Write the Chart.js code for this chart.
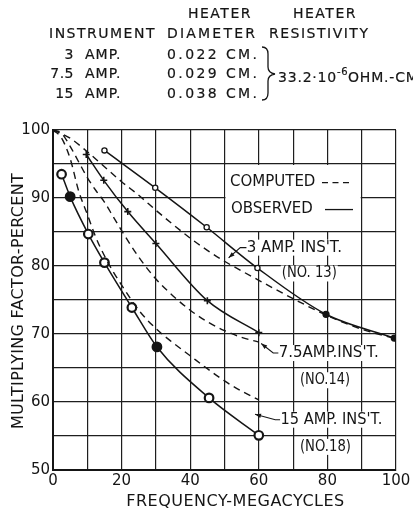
<!DOCTYPE html>
<html><head><meta charset="utf-8">
<script src="https://cdn.jsdelivr.net/npm/chart.js@4"></script>
<style>
html,body{margin:0;padding:0;background:#fff;}
#wrap{position:relative;width:413px;height:510px;overflow:hidden;background:#fff;}
#c{position:absolute;left:0;top:0;}
.h{position:absolute;font-family:"DejaVu Sans",sans-serif;font-size:14px;letter-spacing:1.5px;color:#151515;white-space:nowrap;line-height:16px;-webkit-text-stroke:0.2px #151515;}
.h sup{font-size:10px;letter-spacing:0.5px;position:relative;top:-1px;}
</style></head><body>
<div id="wrap">
<canvas id="c" width="413" height="510"></canvas>
<div id="hdr"></div>
</div>
<script>
// ---------- header table ----------
const headerGroups = ['HEATER', 'HEATER'];
const columnTitles = ['INSTRUMENT', 'DIAMETER', 'RESISTIVITY'];
const instrumentSizes = ['3', '7.5', '15'];
const instrumentUnit = 'AMP.';
const heaterDiameters = ['0.022 CM.', '0.029 CM.', '0.038 CM.'];
const resistivityValue = '33.2·10';
const resistivityExp = '-6';
const resistivityUnit = 'OHM.-CM.';

// ---------- chart data ----------
const xTicks = [0, 20, 40, 60, 80, 100];
const yTicks = [50, 60, 70, 80, 90, 100];

// observed (solid)
const obs3X  = [15, 29.8, 44.8, 59.6, 79.6, 99.5];
const obs3Y  = [97, 91.5, 85.7, 79.7, 72.9, 69.4];
const obs75X = [9.7, 14.8, 21.8, 30, 45, 60];
const obs75Y = [96.4, 92.6, 88, 83.3, 74.9, 70.2];
const obs15X = [2.5, 5, 10.3, 15, 23, 30.3, 45.5, 60];
const obs15Y = [93.5, 90.2, 84.7, 80.5, 73.9, 68.1, 60.6, 55.1];

// computed (dashed)
const comp3X  = [0, 5, 10, 15, 20, 25, 30, 35, 40, 45, 50, 60, 70, 80, 90, 100];
const comp3Y  = [100, 98.8, 96.8, 94.6, 92.4, 90.4, 88.2, 86.1, 84.1, 82.3, 80.7, 77.9, 75.2, 72.7, 70.7, 69.3];
const comp75X = [0, 2.5, 5, 7.5, 10, 12.5, 15, 17.5, 20, 25, 30, 35, 40, 45, 50, 55, 60];
const comp75Y = [100, 99.5, 97.6, 95.3, 93, 91.1, 89.4, 87.3, 85.2, 81.3, 78.1, 75.6, 73.5, 71.8, 70.5, 69.5, 68.8];
const comp15X = [0, 2.5, 5, 7.5, 10, 12.5, 15, 17.5, 20, 25, 30, 35, 40, 45, 50, 55, 60];
const comp15Y = [100, 98.8, 95.8, 91, 87.6, 84.2, 81.5, 79.2, 77.2, 73.5, 70.8, 68.7, 66.8, 64.9, 63.1, 61.6, 60.3];

const legendTexts = ['COMPUTED', 'OBSERVED'];
const curveLabels = ["3 AMP. INS'T.", "7.5AMP.INS'T.", "15 AMP. INS'T."];
const curveNumbers = ['(NO. 13)', '(NO.14)', '(NO.18)'];
const xTitle = 'FREQUENCY-MEGACYCLES';
const yTitle = 'MULTIPLYING FACTOR-PERCENT';

// ---------- header DOM ----------
const hdr = document.getElementById('hdr');
function hText(html, left, top, extra) {
  const d = document.createElement('div');
  d.className = 'h';
  d.innerHTML = html;
  d.style.left = left + 'px';
  d.style.top = top + 'px';
  if (extra) Object.assign(d.style, extra);
  hdr.appendChild(d);
  return d;
}
hText(headerGroups[0], 188, 5);
hText(headerGroups[1], 293, 5);
hText(columnTitles[0], 49, 25);
hText(columnTitles[1], 167, 25, {letterSpacing: '2.2px'});
hText(columnTitles[2], 269, 25);
const rowTops = [46, 65, 85];
instrumentSizes.forEach((s, i) => {
  hText(s, 30, rowTops[i], {width: '44px', textAlign: 'right', letterSpacing: '0.5px'});
  hText(instrumentUnit, 85, rowTops[i], {letterSpacing: '1px'});
  hText(heaterDiameters[i], 167, rowTops[i], {letterSpacing: '2.4px'});
});
hText(resistivityValue + '<sup>' + resistivityExp + '</sup>' + resistivityUnit, 278, 65, {letterSpacing: '0.8px'});
// brace
const svgNS = 'http://www.w3.org/2000/svg';
const svg = document.createElementNS(svgNS, 'svg');
svg.setAttribute('width', '20'); svg.setAttribute('height', '60');
svg.style.position = 'absolute'; svg.style.left = '260px'; svg.style.top = '45px';
const p = document.createElementNS(svgNS, 'path');
p.setAttribute('d', 'M2,2 Q8,2 8,9 L8,22 Q8,28 15,29 Q8,30 8,36 L8,48 Q8,55 2,55');
p.setAttribute('fill', 'none'); p.setAttribute('stroke', '#151515'); p.setAttribute('stroke-width', '1.3');
svg.appendChild(p); hdr.appendChild(svg);

// ---------- chart ----------
const INK = '#151515';
const FONT = '"DejaVu Sans", sans-serif';
const pts = (xs, ys) => xs.map((x, i) => ({x, y: ys[i]}));

function drawText(ctx, s, px, py, font, opts = {}) {
  ctx.save();
  ctx.font = font;
  ctx.textBaseline = 'middle';
  ctx.textAlign = opts.align || 'left';
  if ('letterSpacing' in ctx) ctx.letterSpacing = opts.ls || '0px';
  let w = ctx.measureText(s).width;
  if (opts.maxW && w > opts.maxW) w = opts.maxW;
  if (opts.bg) {
    ctx.fillStyle = '#fff';
    const lx = opts.align === 'center' ? px - w / 2 : px;
    ctx.fillRect(lx - 1, py - 8, w + 2, 16);
  }
  ctx.fillStyle = INK;
  if (opts.maxW) ctx.fillText(s, px, py, opts.maxW); else ctx.fillText(s, px, py);
  ctx.restore();
}

function leader(ctx, X, Y, path) {
  const P = path.map(([a, b]) => [X.getPixelForValue(a), Y.getPixelForValue(b)]);
  ctx.save();
  ctx.strokeStyle = INK; ctx.fillStyle = INK; ctx.lineWidth = 1.1;
  ctx.beginPath();
  ctx.moveTo(P[0][0], P[0][1]);
  for (let i = 1; i < P.length; i++) ctx.lineTo(P[i][0], P[i][1]);
  ctx.stroke();
  const [tx, ty] = P[P.length - 1], [sx, sy] = P[P.length - 2];
  const ang = Math.atan2(ty - sy, tx - sx);
  ctx.beginPath();
  ctx.moveTo(tx, ty);
  ctx.lineTo(tx - 6 * Math.cos(ang) + 2.2 * Math.sin(ang), ty - 6 * Math.sin(ang) - 2.2 * Math.cos(ang));
  ctx.lineTo(tx - 6 * Math.cos(ang) - 2.2 * Math.sin(ang), ty - 6 * Math.sin(ang) + 2.2 * Math.cos(ang));
  ctx.closePath(); ctx.fill();
  ctx.restore();
}

const annot = {
  id: 'annot',
  beforeDatasetsDraw(chart) {
    const {ctx} = chart; const X = chart.scales.x, Y = chart.scales.y;
    const l = X.getPixelForValue(50), r = X.getPixelForValue(90);
    const t = Y.getPixelForValue(95), b = Y.getPixelForValue(85);
    ctx.save(); ctx.fillStyle = '#fff'; ctx.fillRect(l + 1, t + 1, r - l - 2, b - t - 2); ctx.restore();
  },
  afterDatasetsDraw(chart) {
    const {ctx} = chart; const X = chart.scales.x, Y = chart.scales.y;
    const f15 = '15px ' + FONT;
    // legend
    const lx = X.getPixelForValue(51.6);
    const ly1 = Y.getPixelForValue(92.4), ly2 = Y.getPixelForValue(88.3);
    drawText(ctx, legendTexts[0], lx, ly1, f15, {maxW: 90});
    drawText(ctx, legendTexts[1], lx + 1, ly2, f15, {maxW: 89});
    ctx.save(); ctx.strokeStyle = INK; ctx.lineWidth = 1.3;
    ctx.setLineDash([6, 4.5]);
    ctx.beginPath(); ctx.moveTo(lx + 92, ly1 + 1); ctx.lineTo(lx + 122, ly1 + 1); ctx.stroke();
    ctx.setLineDash([]);
    ctx.beginPath(); ctx.moveTo(lx + 95, ly2); ctx.lineTo(lx + 123, ly2); ctx.stroke();
    ctx.restore();
    // curve labels
    const anchors = [[56.5, 82.7], [65.8, 67.2], [66.3, 57.4]];
    const numAnchors = [[66.7, 78.9], [72.0, 63.2], [72.0, 53.4]];
    const widths = [97, 104, 102], numW = [55, 50, 51];
    curveLabels.forEach((s, i) => {
      drawText(ctx, s, X.getPixelForValue(anchors[i][0]), Y.getPixelForValue(anchors[i][1]), f15, {maxW: widths[i], bg: true});
      drawText(ctx, curveNumbers[i], X.getPixelForValue(numAnchors[i][0]), Y.getPixelForValue(numAnchors[i][1]), f15, {maxW: numW[i], bg: true});
    });
    leader(ctx, X, Y, [[56.4, 82.7], [54.6, 82.7], [51.2, 81.2]]);
    leader(ctx, X, Y, [[65.7, 67.2], [64.2, 67.2], [60.7, 68.6]]);
    leader(ctx, X, Y, [[66.2, 57.4], [64.8, 57.4], [58.9, 58.2]]);
  },
  afterDraw(chart) {
    const {ctx, chartArea: a} = chart;
    const f16 = '16px ' + FONT;
    drawText(ctx, xTitle, (a.left + a.right) / 2 + 11, 502, f16, {align: 'center', ls: '0.5px'});
    ctx.save();
    ctx.translate(19, (a.top + a.bottom) / 2 + 1);
    ctx.rotate(-Math.PI / 2);
    drawText(ctx, yTitle, 0, 0, f16, {align: 'center', ls: '0.3px'});
    ctx.restore();
  }
};

const dashed = (xs, ys) => ({
  data: pts(xs, ys), borderColor: INK, borderWidth: 1.4, borderDash: [7, 5],
  pointRadius: 0, cubicInterpolationMode: 'monotone', fill: false
});

new Chart(document.getElementById('c'), {
  type: 'line',
  data: {
    datasets: [
      dashed(comp3X, comp3Y),
      dashed(comp75X, comp75Y),
      dashed(comp15X, comp15Y),
      {
        data: pts(obs3X, obs3Y), borderColor: INK, borderWidth: 1.5, cubicInterpolationMode: 'monotone',
        pointStyle: 'circle', pointRadius: c => c.dataIndex >= 4 ? 3 : 2.6, pointBorderWidth: 1.3,
        pointBackgroundColor: c => c.dataIndex >= 4 ? INK : '#fff', pointBorderColor: INK
      },
      {
        data: pts(obs75X, obs75Y), borderColor: INK, borderWidth: 1.5, cubicInterpolationMode: 'monotone',
        pointStyle: 'cross', pointRadius: 3.5, pointBorderWidth: 1.6, pointBorderColor: INK
      },
      {
        data: pts(obs15X, obs15Y), borderColor: INK, borderWidth: 1.5, cubicInterpolationMode: 'monotone',
        pointStyle: 'circle', pointRadius: 4.3, pointBorderWidth: 2.2, pointBorderColor: INK,
        pointBackgroundColor: c => (c.dataIndex === 1 || c.dataIndex === 5) ? INK : '#fff'
      }
    ]
  },
  options: {
    responsive: false, animation: false, devicePixelRatio: 1, events: [],
    layout: {padding: {top: 130, right: 17, left: 0, bottom: 0}},
    plugins: {legend: {display: false}, tooltip: {enabled: false}},
    scales: {
      x: {
        type: 'linear', min: 0, max: 100,
        afterFit: s => { s.height = 40; },
        grid: {color: '#1e1e1e', lineWidth: 1.2, drawTicks: false},
        border: {color: INK, width: 2},
        ticks: {
          stepSize: 10, padding: 2, color: INK, font: {family: FONT, size: 15},
          maxRotation: 0, minRotation: 0, autoSkip: false,
          callback: v => xTicks.includes(v) ? String(v) : ''
        }
      },
      y: {
        min: 50, max: 100,
        afterFit: s => { s.width = 53; },
        grid: {color: '#1e1e1e', lineWidth: 1.2, drawTicks: false},
        border: {color: INK, width: 2},
        ticks: {
          stepSize: 5, padding: 3, color: INK, font: {family: FONT, size: 15},
          autoSkip: false,
          callback: v => yTicks.includes(v) ? String(v) : ''
        }
      }
    }
  },
  plugins: [annot]
});
</script>
</body></html>
